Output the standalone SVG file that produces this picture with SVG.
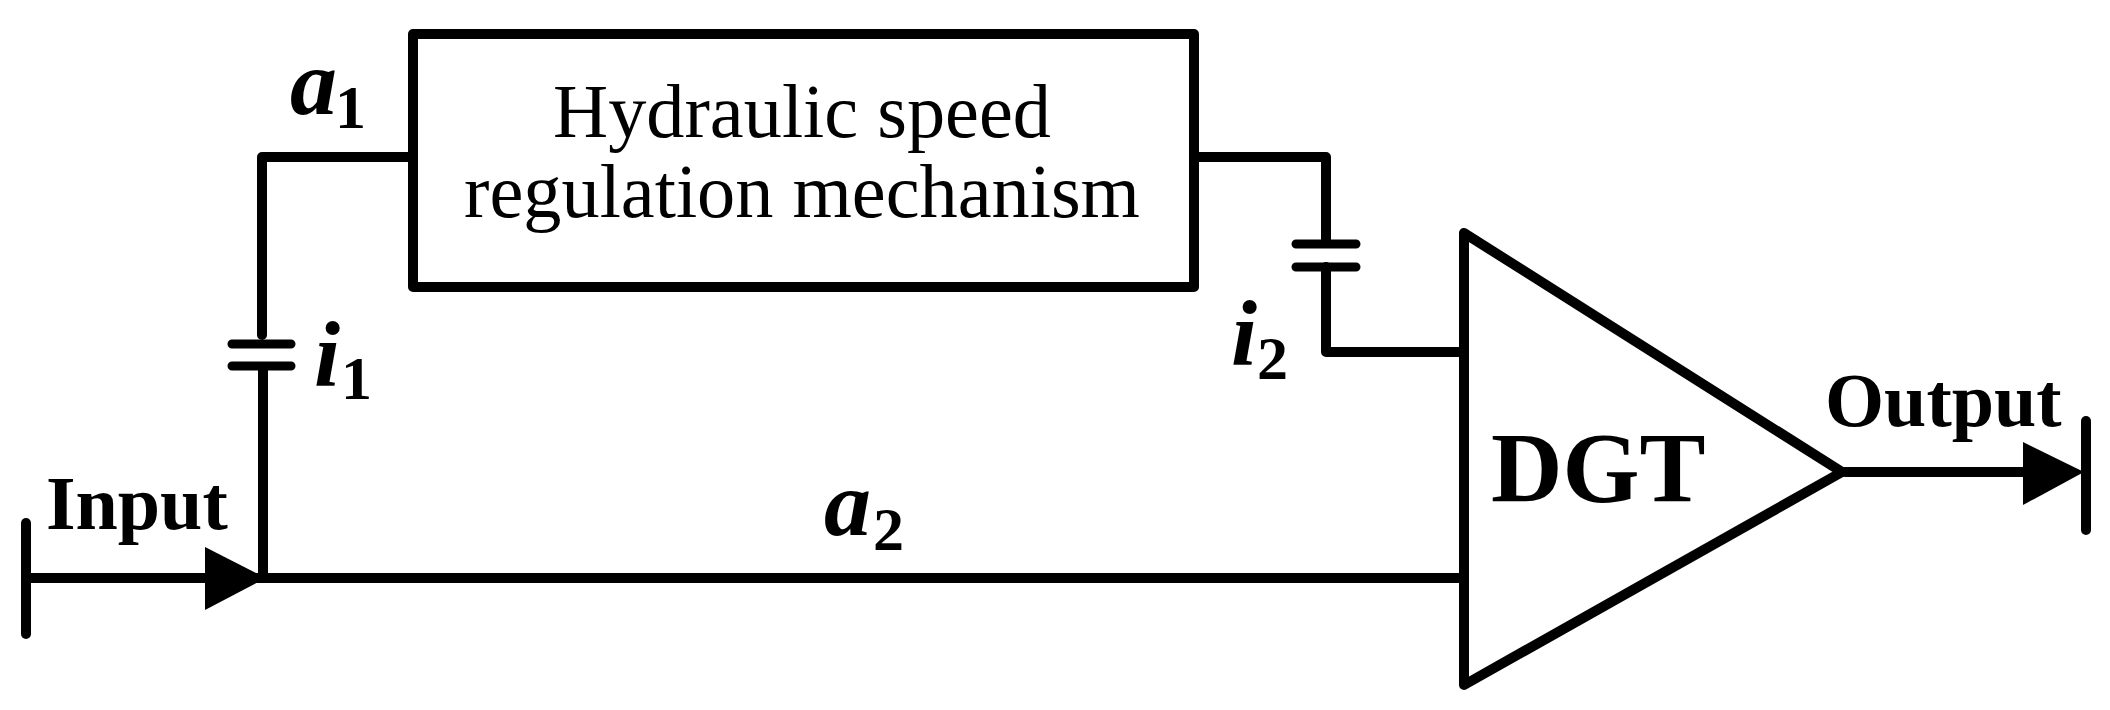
<svg xmlns="http://www.w3.org/2000/svg" width="2110" height="710" viewBox="0 0 2110 710">
<style>
.l{fill:none;stroke:#000;stroke-width:10;stroke-linecap:round;stroke-linejoin:round}
.c{fill:none;stroke:#000;stroke-width:9;stroke-linecap:round}
.t{font-family:"Liberation Serif",serif;fill:#000}
.b{font-weight:bold}
.i{font-weight:bold;font-style:italic;font-size:94px}
.u{font-weight:bold;font-size:62px}
.s{font-weight:bold;font-size:76px}
.m{font-size:76.3px;text-anchor:middle}
</style>
<rect width="2110" height="710" fill="#fff"/>
<g id="connectors">
<path class="l" d="M262 335V157H413"/>
<path class="l" d="M263 369V577"/>
<path class="l" d="M1194 157H1326V243"/>
<path class="l" d="M1326 267V352H1464"/>
<path class="l" d="M27 578H1464"/>
<path class="l" d="M1845 472H2040"/>
<path class="l" d="M26 523V634"/>
<path class="l" d="M2086 421V530"/>
<path d="M205 547L266 578L205 610Z"/>
<path d="M2023 442L2084 472L2023 505Z"/>
<path class="c" d="M232 344H291M232 366H291M1296 244H1356M1296 267H1356"/>
</g>
<g id="mechanism"><rect class="l" x="413" y="34" width="781" height="253" fill="#fff"/>
<text class="t m" x="802" y="137">Hydraulic speed</text>
<text class="t m" x="802" y="217">regulation mechanism</text></g>
<g id="dgt"><path class="l" d="M1464 233V685L1842 472Z" fill="#fff"/>
<text class="t b" x="1491" y="501" font-size="99">DGT</text></g>
<g id="labels">
<text class="t s" x="46" y="529">Input</text>
<text class="t s" x="1825" y="426">Output</text>
<text class="t i" x="290" y="114">a</text><text class="t u" x="335" y="128">1</text>
<text class="t i" x="314" y="386">i</text><text class="t u" x="341" y="399">1</text>
<text class="t i" x="1231" y="365">i</text><text class="t u" x="1257" y="379">2</text>
<text class="t i" x="824" y="535">a</text><text class="t u" x="873" y="550">2</text>
</g>
</svg>
